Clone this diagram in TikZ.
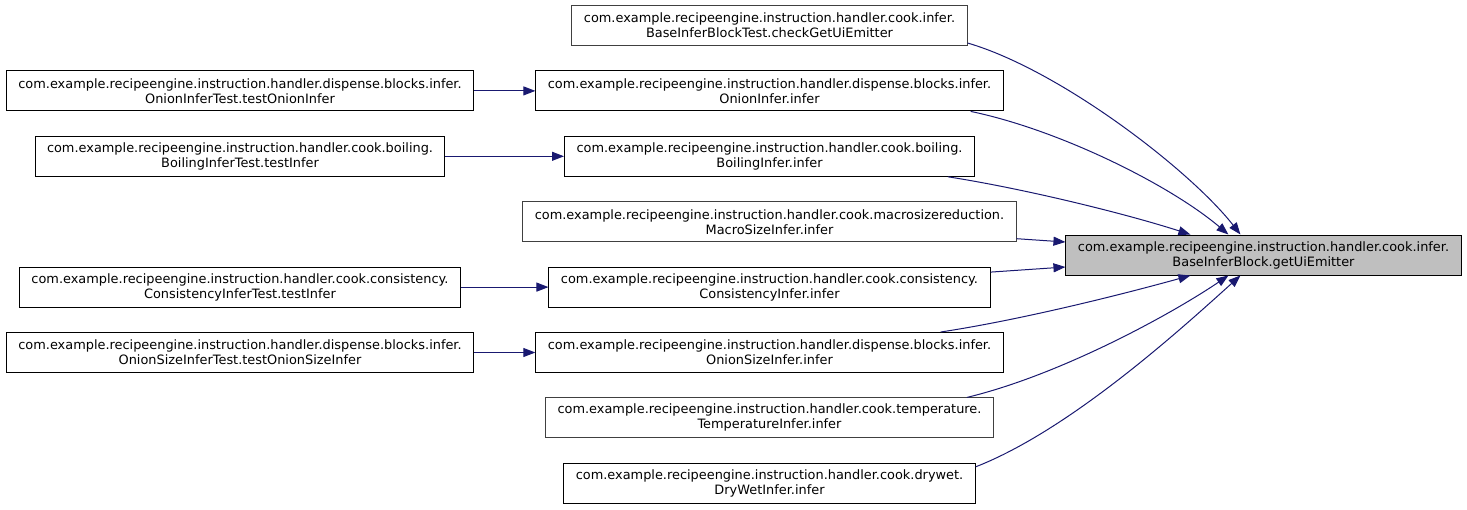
\documentclass[tikz,border=0pt]{standalone}
\usepackage{fontspec}
\setmainfont{DejaVu Sans}
\usetikzlibrary{arrows.meta,positioning,calc}
\definecolor{edgeblue}{HTML}{191970}
\definecolor{nodegrey}{HTML}{404040}
\definecolor{rootfill}{HTML}{BFBFBF}

\begin{document}
\begin{tikzpicture}[
  x=1pt,y=-1pt,
  font=\fontsize{12.9}{15}\selectfont,
  box/.style={draw=black,line width=1pt,inner xsep=12pt,inner ysep=3pt,minimum height=40pt,align=center},
  dimbox/.style={box,draw=nodegrey},
  root/.style={box,fill=rootfill},
  arr/.style={-{Triangle[length=12pt,width=9pt]},line width=1pt,draw=edgeblue},
  node distance=24.4pt
]
\useasboundingbox (0,0) rectangle (1467,509);
\node[root] (T) at (1263.5,255) {com.example.recipeengine.instruction.handler.cook.infer.\\BaseInferBlock.getUiEmitter};
\node[dimbox] (C1) at (769.5,25.5) {com.example.recipeengine.instruction.handler.cook.infer.\\BaseInferBlockTest.checkGetUiEmitter};
\node[box,below=of C1] (C2) {com.example.recipeengine.instruction.handler.dispense.blocks.infer.\\OnionInfer.infer};
\node[box,below=of C2] (C3) {com.example.recipeengine.instruction.handler.cook.boiling.\\BoilingInfer.infer};
\node[dimbox,below=of C3] (C4) {com.example.recipeengine.instruction.handler.cook.macrosizereduction.\\MacroSizeInfer.infer};
\node[box,below=of C4] (C5) {com.example.recipeengine.instruction.handler.cook.consistency.\\ConsistencyInfer.infer};
\node[box,below=of C5] (C6) {com.example.recipeengine.instruction.handler.dispense.blocks.infer.\\OnionSizeInfer.infer};
\node[dimbox,below=of C6] (C7) {com.example.recipeengine.instruction.handler.cook.temperature.\\TemperatureInfer.infer};
\node[box,below=of C7] (C8) {com.example.recipeengine.instruction.handler.cook.drywet.\\DryWetInfer.infer};
\node[box] (L1) at (240,0 |- C2) {com.example.recipeengine.instruction.handler.dispense.blocks.infer.\\OnionInferTest.testOnionInfer};
\node[box] (L2) at (240,0 |- C3) {com.example.recipeengine.instruction.handler.cook.boiling.\\BoilingInferTest.testInfer};
\node[box] (L3) at (240,0 |- C5) {com.example.recipeengine.instruction.handler.cook.consistency.\\ConsistencyInferTest.testInfer};
\node[box] (L4) at (240,0 |- C6) {com.example.recipeengine.instruction.handler.dispense.blocks.infer.\\OnionSizeInferTest.testOnionSizeInfer};
\draw[arr] (L1) -- (C2);
\draw[arr] (L2) -- (C3);
\draw[arr] (L3) -- (C5);
\draw[arr] (L4) -- (C6);
\draw[arr] ($(C1.south east)+(0,-3)$) .. controls (1060,70) and (1190,170) .. ($(T.north west)+(175,0)$);
\draw[arr] ($(C2.south east)+(-33,0)$) .. controls (1060,130) and (1170,185) .. ($(T.north west)+(163,0)$);
\draw[arr] ($(C3.south east)+(-27,0)$) .. controls (1020,188) and (1120,212) .. ($(T.north west)+(125,0)$);
\draw[arr] ($(C4.east)+(0,17)$) -- ($(T.west)+(0,-13)$);
\draw[arr] ($(C5.east)+(0,-15)$) -- ($(T.west)+(0,12)$);
\draw[arr] ($(C6.north east)+(-63,0)$) .. controls (1020,320) and (1120,295) .. ($(T.south west)+(125,0)$);
\draw[arr] ($(C7.north east)+(-27,0)$) .. controls (1060,375) and (1170,315) .. ($(T.south west)+(163,0)$);
\draw[arr] ($(C8.north east)+(0,4)$) .. controls (1070,430) and (1180,330) .. ($(T.south west)+(175,0)$);
\end{tikzpicture}
\end{document}
